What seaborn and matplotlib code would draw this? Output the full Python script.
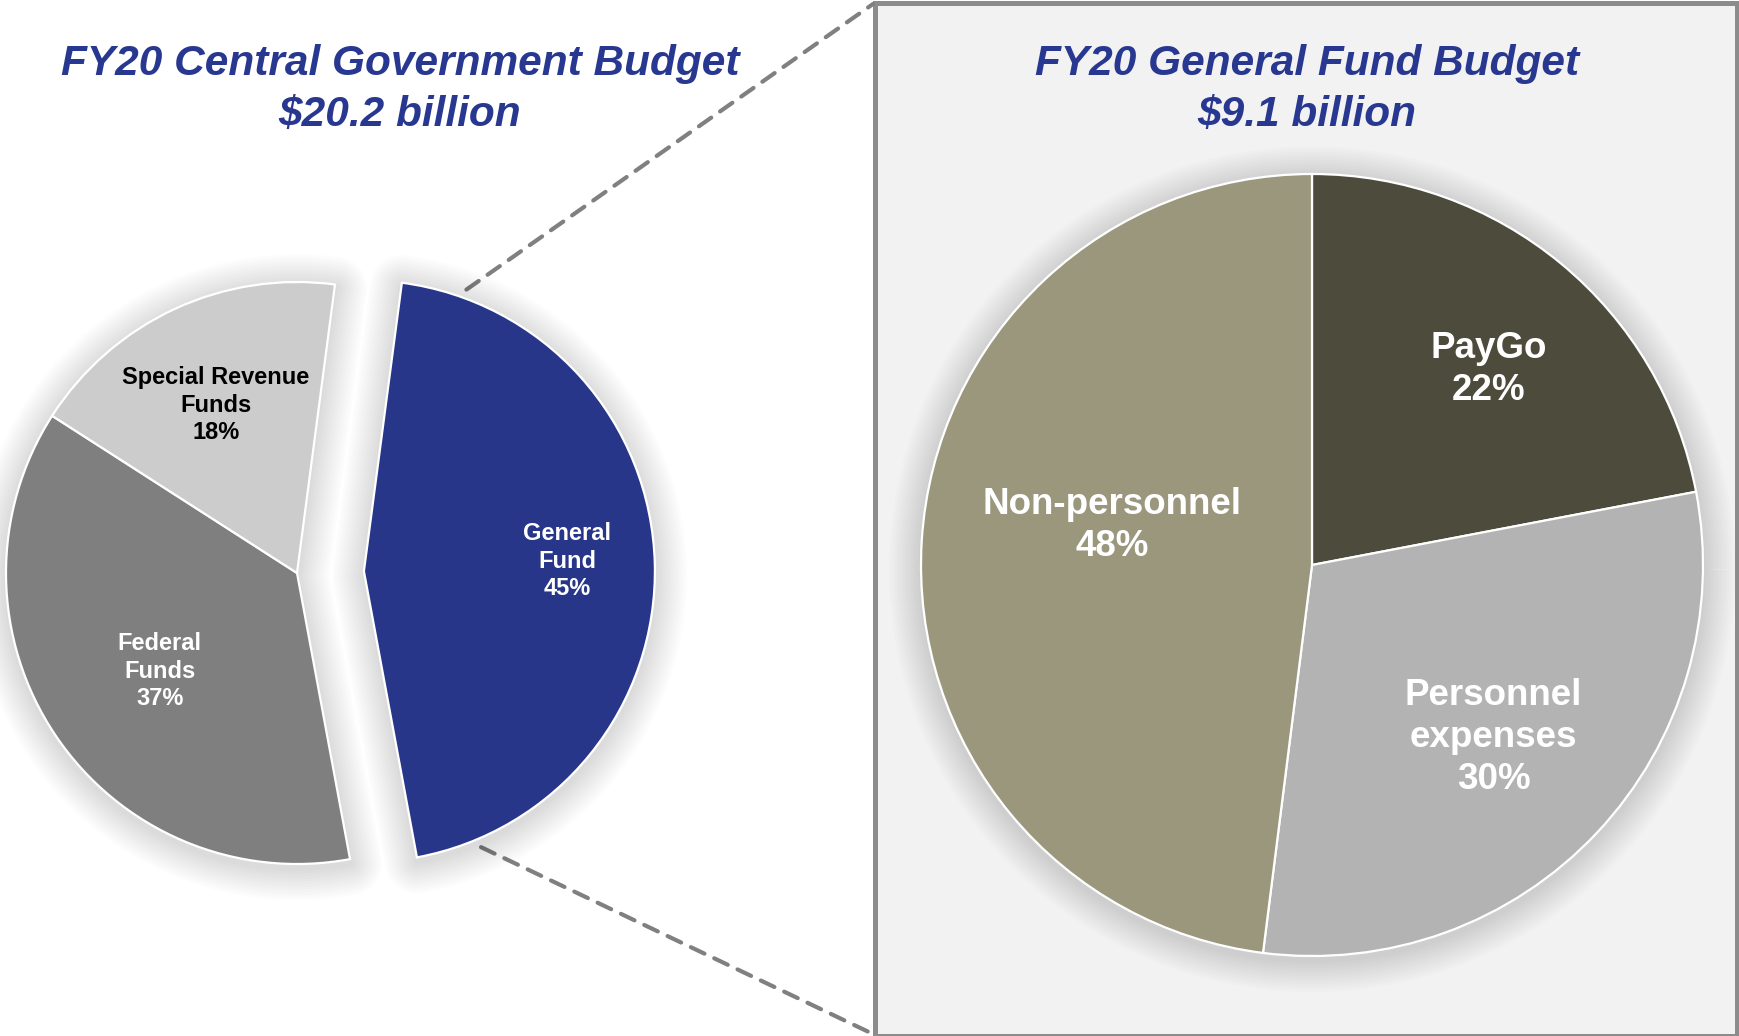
"""FY20 budget breakdown: central government pie with general fund detail."""

import matplotlib

matplotlib.use("Agg")

import matplotlib.patheffects as pe
import matplotlib.pyplot as plt
import numpy as np
import seaborn as sns
from matplotlib.patches import ConnectionPatch, Rectangle, Wedge

# --- data -------------------------------------------------------------------
central_labels = ["General\nFund", "Federal\nFunds", "Special Revenue\nFunds"]
central_shares = [45, 37, 18]
central_title = ["FY20 Central Government Budget", "$20.2 billion"]

general_labels = ["PayGo", "Personnel\nexpenses", "Non-personnel"]
general_shares = [22, 30, 48]
general_title = ["FY20 General Fund Budget", "$9.1 billion"]

# --- styles -----------------------------------------------------------------
TITLE_BLUE = "#283891"
central_colors = ["#273689", "#7f7f7f", "#cccccc"]
central_text_colors = ["white", "white", "black"]
# label placement: (fraction of radius, angle tweak in degrees from wedge middle)
central_label_pos = [(0.70, 1.3), (0.58, 1.7), (0.64, 1.0)]
general_colors = ["#4d4b3b", "#b3b3b3", "#9a977d"]
general_text_colors = ["white", "white", "white"]
general_label_pos = [(0.675, -2.5), (0.64, -0.3), (0.52, -7.5)]

W_PX, H_PX = 1739, 1036


def add_px_axes(fig, cx, cy, half):
    """Square axes centred on a pixel position (y measured from the top)."""
    rect = [(cx - half) / W_PX, (H_PX - cy - half) / H_PX, 2 * half / W_PX, 2 * half / H_PX]
    ax = fig.add_axes(rect)
    ax.set_axis_off()
    return ax


def merge_wedges(wedges):
    """Join neighbouring wedges that share a centre into one outline (for the shadow)."""
    groups = []
    for w in wedges:
        c = tuple(np.round(w.center, 6))
        if groups and groups[-1][0] == c:
            g = groups[-1]
            g[2], g[3] = min(g[2], w.theta1), max(g[3], w.theta2)
        else:
            groups.append([c, w.r, w.theta1, w.theta2])
    return groups


def add_shadow(ax, wedges):
    """Soft drop shadow built from stacked translucent strokes."""
    strokes = [
        pe.Stroke(linewidth=w, foreground="black", alpha=0.013, joinstyle="round", offset=(0, -3))
        for w in np.linspace(46, 4, 12)
    ]
    for center, r, t1, t2 in merge_wedges(wedges):
        shadow = Wedge(center, r, t1, t2, facecolor="none", edgecolor="black", zorder=0.5)
        shadow.set_path_effects(strokes)
        ax.add_patch(shadow)


def draw_pie(ax, shares, labels, colors, text_colors, label_pos, fontsize, linespacing,
             explode=None, startangle=90.0, lim=1.3):
    wedges, _ = ax.pie(
        shares,
        explode=explode,
        colors=colors,
        startangle=startangle,
        counterclock=False,
        wedgeprops={"edgecolor": "white", "linewidth": 1.6, "zorder": 1},
    )
    add_shadow(ax, wedges)
    for w, label, share, tc, (dist, tweak) in zip(wedges, labels, shares, text_colors, label_pos):
        mid = np.deg2rad((w.theta1 + w.theta2) / 2.0 + tweak)
        x = w.center[0] + dist * w.r * np.cos(mid)
        y = w.center[1] + dist * w.r * np.sin(mid)
        ax.text(x, y, f"{label}\n{share}%", ha="center", va="center", color=tc,
                fontsize=fontsize, fontweight="bold", linespacing=linespacing, zorder=3)
    ax.set_xlim(-lim, lim)
    ax.set_ylim(-lim, lim)
    ax.set_aspect("equal")
    return wedges


def main():
    sns.set_style("white")
    plt.rcParams["font.family"] = ["Liberation Sans", "DejaVu Sans"]

    fig = plt.figure(figsize=(W_PX / 100, H_PX / 100), dpi=100)
    fig.patch.set_facecolor("white")

    # background layer in pixel coordinates
    bg = fig.add_axes([0, 0, 1, 1], zorder=-1)
    bg.set_xlim(0, W_PX)
    bg.set_ylim(H_PX, 0)
    bg.set_axis_off()
    bg.add_patch(Rectangle((874.5, 3), 1736.5 - 874.5, 1035.5 - 3, facecolor="#f2f2f2",
                           edgecolor="#8c8c8c", linewidth=3.6, clip_on=False))

    for i, line in enumerate(central_title):
        bg.text(400, 64 + 52 * i, line, ha="center", va="center", color=TITLE_BLUE,
                fontsize=30.5, fontweight="bold", fontstyle="italic")
    for i, line in enumerate(general_title):
        bg.text(1307, 64 + 52 * i, line, ha="center", va="center", color=TITLE_BLUE,
                fontsize=30.5, fontweight="bold", fontstyle="italic")

    # left pie
    ax_left = add_px_axes(fig, 297, 573, 1.35 * 291)
    left_wedges = draw_pie(ax_left, central_shares, central_labels, central_colors,
                           central_text_colors, central_label_pos, 17, 1.25,
                           explode=[0.23, 0, 0], startangle=82.5, lim=1.35)

    # right pie
    ax_right = add_px_axes(fig, 1312, 565, 1.2 * 391)
    draw_pie(ax_right, general_shares, general_labels, general_colors, general_text_colors,
             general_label_pos, 26.5, 1.25, startangle=90, lim=1.2)

    # dashed connectors from the exploded wedge to the panel corners
    gf = left_wedges[0]
    for ang, corner in ((gf.theta2 - 12.5, (873, 4)), (gf.theta1 + 12.5, (873, 1034))):
        a = np.deg2rad(ang)
        start = (gf.center[0] + 1.03 * gf.r * np.cos(a), gf.center[1] + 1.03 * gf.r * np.sin(a))
        con = ConnectionPatch(xyA=start, coordsA=ax_left.transData, xyB=corner,
                              coordsB=bg.transData, color="#808080", linewidth=3.0,
                              linestyle=(0, (3.6, 2.6)), zorder=-0.5)
        fig.add_artist(con)

    fig.savefig("out.png", dpi=100)
    plt.close(fig)


if __name__ == "__main__":
    main()
